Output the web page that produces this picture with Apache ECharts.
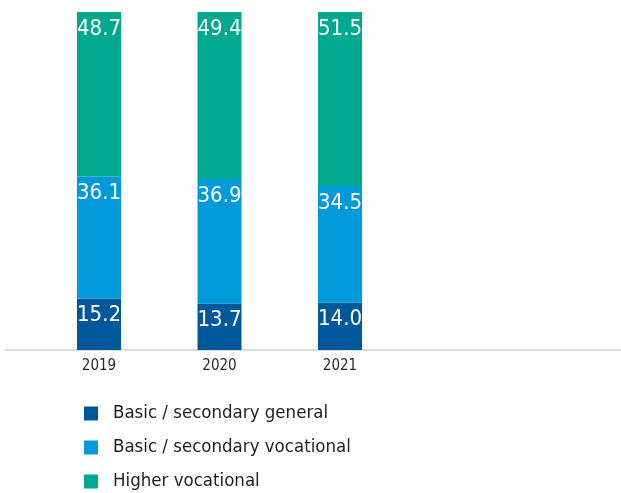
<!DOCTYPE html>
<html>
<head>
<meta charset="utf-8">
<script src="https://cdn.jsdelivr.net/npm/echarts@6/dist/echarts.min.js"></script>
<style>
  html, body { margin: 0; padding: 0; background: #fff; }
  #chart { width: 621px; height: 493px; }
</style>
</head>
<body>
<div id="chart"></div>
<script>
// Education level shares by year (%)
const years = ['2019', '2020', '2021'];
const basicGeneral = [15.2, 13.7, 14.0];
const basicVocational = [36.1, 36.9, 34.5];
const higherVocational = [48.7, 49.4, 51.5];
const seriesNames = ['Basic / secondary general', 'Basic / secondary vocational', 'Higher vocational'];
const colors = ['#00589b', '#0099d9', '#00a88f'];

const FONT = '"DejaVu Sans Condensed", sans-serif';

function barSeries(name, data, color) {
  return {
    name: name,
    type: 'bar',
    stack: 'total',
    xAxisIndex: 0,
    yAxisIndex: 0,
    barWidth: 44,
    data: data,
    itemStyle: { color: color },
    label: {
      show: true,
      position: 'insideTopLeft',
      distance: 0,
      offset: [0, 6],
      color: '#fff',
      fontFamily: FONT,
      fontSize: 22,
      formatter: p => p.value.toFixed(1)
    }
  };
}

const chart = echarts.init(document.getElementById('chart'));
chart.setOption({
  animation: false,
  legend: {
    orient: 'vertical',
    left: 79,
    top: 399,
    height: 100,
    itemWidth: 14,
    itemHeight: 14,
    itemGap: 15,
    icon: 'rect',
    textStyle: { fontFamily: FONT, fontSize: 18.5, color: '#1e1e1e', padding: [0, 0, 0, 10] },
    data: seriesNames
  },
  grid: [
    { left: 38.75, width: 361.5, top: 12, bottom: 143 },
    { left: 6, right: 0, top: 12, bottom: 143 }
  ],
  xAxis: [
    {
      type: 'category',
      gridIndex: 0,
      data: years,
      axisLine: { show: false },
      axisTick: { show: false },
      axisLabel: { fontFamily: FONT, fontSize: 15, color: '#2a2a2a', margin: 9 }
    },
    {
      type: 'category',
      gridIndex: 1,
      data: [''],
      axisLine: { show: true, lineStyle: { color: '#dcdcdc', width: 2 } },
      axisTick: { show: false },
      axisLabel: { show: false }
    }
  ],
  yAxis: [
    { type: 'value', gridIndex: 0, min: 0, max: 100, show: false },
    { type: 'value', gridIndex: 1, min: 0, max: 100, show: false }
  ],
  series: [
    barSeries(seriesNames[0], basicGeneral, colors[0]),
    barSeries(seriesNames[1], basicVocational, colors[1]),
    barSeries(seriesNames[2], higherVocational, colors[2])
  ]
});
</script>
</body>
</html>
